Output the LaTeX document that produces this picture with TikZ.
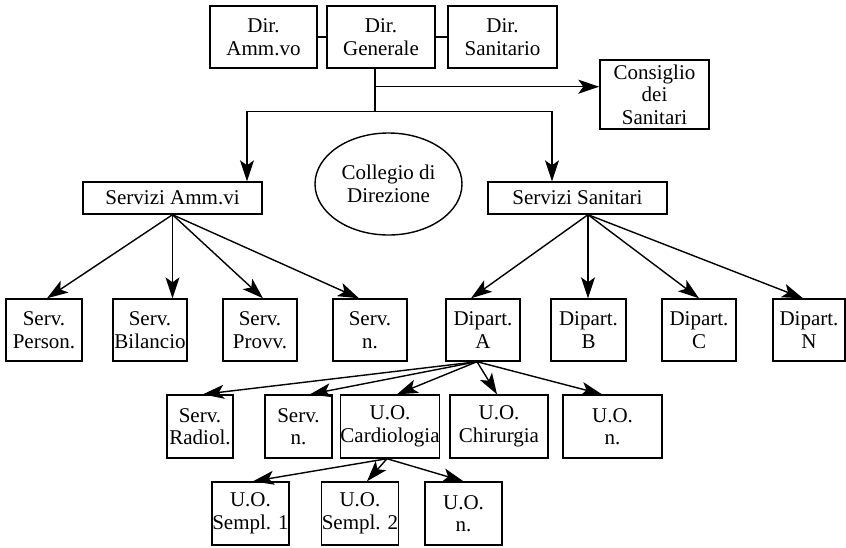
\documentclass[tikz,border=0pt]{standalone}
\usepackage{fontspec}
\setmainfont{Liberation Serif}
\usetikzlibrary{arrows.meta}
\usetikzlibrary{shapes}
\tikzset{
  box/.style={draw, line width=1.4pt, align=center, inner sep=0pt, minimum height=62pt},
  link/.style={line width=1.4pt},
  arrow/.style={line width=1.4pt, -{Stealth[length=21pt,width=14pt,inset=5pt]}},
}

\begin{document}
\begin{tikzpicture}[x=1pt, y=-1pt, font=\fontsize{21}{22.5}\selectfont]
  \useasboundingbox (0,0) rectangle (846,547);

  \node[box, minimum width=107pt] (amm) at (263.5,37) {Dir.\\Amm.vo};
  \node[box, minimum width=108pt] (gen) at (381,37) {Dir.\\Generale};
  \node[box, minimum width=109pt] (san) at (502.5,37) {Dir.\\Sanitario};
  \node[box, minimum width=109pt, minimum height=69pt] (cons) at (654.5,94.5) {Consiglio\\dei\\Sanitari};

  \draw[link](amm.east)--(gen.west);
  \draw[link](gen.east)--(san.west);

  \node[box, minimum width=179pt, minimum height=32pt] (samm) at (172.5,198) {Servizi Amm.vi};
  \node[box, minimum width=179pt, minimum height=32pt] (ssan) at (577.5,198) {Servizi Sanitari};
  \node[draw, line width=1.4pt, ellipse, align=center, inner sep=0pt,
        minimum width=147pt, minimum height=102pt] (coll) at (388.5,184) {Collegio di\\Direzione};

  \coordinate (stem) at ([xshift=-6pt]gen.south);
  \coordinate (bar) at ([yshift=-43pt]stem);
  \draw[link](stem)--(bar);
  \draw[arrow]([yshift=-18pt]stem)--([yshift=-18pt]stem -| cons.west);
  \draw[arrow](bar)-|([xshift=74.5pt]samm.north);
  \draw[arrow](bar)-|([xshift=-25.5pt]ssan.north);

  \node[box, minimum width=76pt] (pers) at (44,330) {Serv.\\Person.};
  \node[box, minimum width=74pt] (bil) at (150,330) {Serv.\\Bilancio};
  \node[box, minimum width=74pt] (provv) at (260,330) {Serv.\\Provv.};
  \node[box, minimum width=74pt] (servn) at (370,330) {Serv.\\n.};

  \draw[arrow](samm.south)--([xshift=3pt]pers.north);
  \draw[arrow](samm.south)--(samm.south |- bil.north);
  \draw[arrow](samm.south)--([xshift=3pt]provv.north);
  \draw[arrow](samm.south)--([xshift=-11pt]servn.north);

  \node[box, minimum width=74pt] (dipa) at (483,330) {Dipart.\\A};
  \node[box, minimum width=75pt] (dipb) at (588.5,330) {Dipart.\\B};
  \node[box, minimum width=74pt] (dipc) at (699,330) {Dipart.\\C};
  \node[box, minimum width=72pt] (dipn) at (809,330) {Dipart.\\N};

  \coordinate (sfoot) at ([xshift=10.5pt]ssan.south);
  \draw[arrow](sfoot)--([xshift=-12pt]dipa.north);
  \draw[arrow](sfoot)--(sfoot |- dipb.north);
  \draw[arrow](sfoot)--(dipc.north);
  \draw[arrow](sfoot)--([xshift=-6pt]dipn.north);

  \node[box, minimum width=66pt, minimum height=63pt] (radiol) at (200,426.5) {Serv.\\Radiol.};
  \node[box, minimum width=67pt, minimum height=63pt] (radn) at (298.5,426.5) {Serv.\\n.};
  \node[box, minimum width=94pt, minimum height=63pt] (cardio) at (390,426.5) {U.O.\\Cardiologia};
  \node[box, minimum width=98pt, minimum height=63pt] (chir) at (499,426.5) {U.O.\\Chirurgia};
  \node[box, minimum width=99pt, minimum height=63pt] (uon) at (612.5,426.5) {U.O.\\n.};

  \coordinate (afoot) at ([xshift=-6pt]dipa.south);
  \draw[arrow](afoot)--([xshift=3pt]radiol.north);
  \draw[arrow](afoot)--([xshift=11.5pt]radn.north);
  \draw[arrow](afoot)--([xshift=7pt]cardio.north);
  \draw[arrow](afoot)--([xshift=-2pt]chir.north);
  \draw[arrow](afoot)--([xshift=-10.5pt]uon.north);

  \node[box, minimum width=77pt, minimum height=63pt] (semp1) at (250.5,513.5) {U.O.\\Sempl. 1};
  \node[box, minimum width=74pt, minimum height=63pt] (semp2) at (360,513.5) {U.O.\\Sempl. 2};
  \node[box, minimum width=77pt, minimum height=63pt] (sempn) at (463.5,513.5) {U.O.\\n.};

  \coordinate (cfoot) at ([xshift=-3pt]cardio.south);
  \draw[arrow](cfoot)--([xshift=2.5pt]semp1.north);
  \draw[arrow](cfoot)--([xshift=7pt]semp2.north);
  \draw[arrow](cfoot)--(sempn.north);

\end{tikzpicture}
\end{document}
